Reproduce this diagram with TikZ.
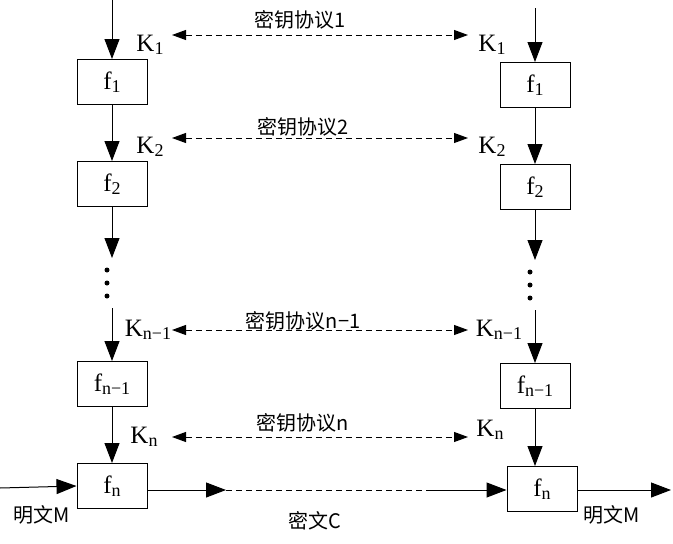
\documentclass[tikz,border=0pt]{standalone}
\usepackage{fontspec}
\setmainfont{Liberation Serif}
\newfontfamily\cjk{Noto Sans CJK SC}
\usetikzlibrary{arrows.meta}
\newcommand{\sbx}[1]{\raisebox{-0.3ex}{\fontsize{18}{18}\selectfont #1}}
\begin{document}
\begin{tikzpicture}[x=1pt,y=-1pt,
  box/.style={draw,line width=1pt,minimum width=70pt,minimum height=45pt,inner sep=0pt,font=\fontsize{25}{25}\selectfont},
  ar/.style={line width=1pt,-{Triangle[length=20pt,width=15pt]}},
  da/.style={line width=1pt,dash pattern=on 6pt off 4pt,{Triangle[length=14pt,width=10pt]}-{Triangle[length=14pt,width=10pt]}},
  lab/.style={font=\fontsize{25}{25}\selectfont,inner sep=0pt},
  cl/.style={font=\cjk\fontsize{20}{20}\selectfont,inner sep=0pt}]
\useasboundingbox (0,0) rectangle (673,544);
% left boxes
\node[box] (L1) at (112,82) {f\sbx{1}};
\node[box] (L2) at (112,184) {f\sbx{2}};
\node[box] (L3) at (112,384) {f\sbx{n−1}};
\node[box] (L4) at (112,486) {f\sbx{n}};
% right boxes
\node[box] (R1) at (535,85) {f\sbx{1}};
\node[box] (R2) at (535,187) {f\sbx{2}};
\node[box] (R3) at (535,386) {f\sbx{n−1}};
\node[box] (R4) at (542,489) {f\sbx{n}};
% left arrows
\coordinate (lt) at (112,0);
\draw[ar] (lt) -- (L1.north);
\draw[ar] (L1.south) -- (L2.north);
\coordinate (ld1) at (112,258);
\draw[ar] (L2.south) -- (ld1);
\coordinate (ld2) at (112,308);
\draw[ar] (ld2) -- (L3.north);
\draw[ar] (L3.south) -- (L4.north);
\foreach \y in {270,283,296} \fill (107,\y) circle (2.5pt);
% right arrows
\coordinate (rt) at (535,8);
\draw[ar] (rt) -- (R1.north);
\draw[ar] (R1.south) -- (R2.north);
\coordinate (rd1) at (535,260);
\draw[ar] (R2.south) -- (rd1);
\coordinate (rd2) at (535,310);
\draw[ar] (rd2) -- (R3.north);
\draw[ar] (R3.south) -- (535,466);
\foreach \y in {272,285,298} \fill (530,\y) circle (2.5pt);
% K labels
\node[lab] (k1l) at (150,45) {K\sbx{1}};
\node[lab] (k2l) at (150,147) {K\sbx{2}};
\node[lab] (k3l) at (148,330) {K\sbx{n−1}};
\node[lab] (k4l) at (144,437) {K\sbx{n}};
\node[lab] (k1r) at (492,45) {K\sbx{1}};
\node[lab] (k2r) at (492,147) {K\sbx{2}};
\node[lab] (k3r) at (499,330) {K\sbx{n−1}};
\node[lab] (k4r) at (490,430) {K\sbx{n}};
% dashed protocol arrows
\coordinate (a1) at (172,35); \coordinate (b1) at (468,35);
\draw[da] (a1) -- (b1);
\node[cl] at (300,20) {密钥协议1};
\coordinate (a2) at (172,138); \coordinate (b2) at (468,138);
\draw[da] (a2) -- (b2);
\node[cl] at (303,127) {密钥协议2};
\coordinate (a3) at (172,330); \coordinate (b3) at (468,330);
\draw[da] (a3) -- (b3);
\node[cl] at (303,321) {密钥协议n−1};
\coordinate (a4) at (172,437); \coordinate (b4) at (468,437);
\draw[da] (a4) -- (b4);
\node[cl] at (303,423) {密钥协议n};
% bottom
\coordinate (in) at (0,488);
\draw[ar] (in) -- (L4.west);
\node[cl] at (42,515) {明文M};
\coordinate (c1) at (226,490);
\draw[ar] (L4.east |- c1) -- (c1);
\coordinate (c2) at (430,490);
\draw[line width=1pt,dash pattern=on 6pt off 4pt] (c1) -- (c2);
\draw[ar] (c2) -- (R4.west |- c2);
\node[cl] at (315,521) {密文C};
\coordinate (out) at (671,490);
\draw[ar] (R4.east |- out) -- (out);
\node[cl] at (612,515) {明文M};
\end{tikzpicture}
\end{document}
